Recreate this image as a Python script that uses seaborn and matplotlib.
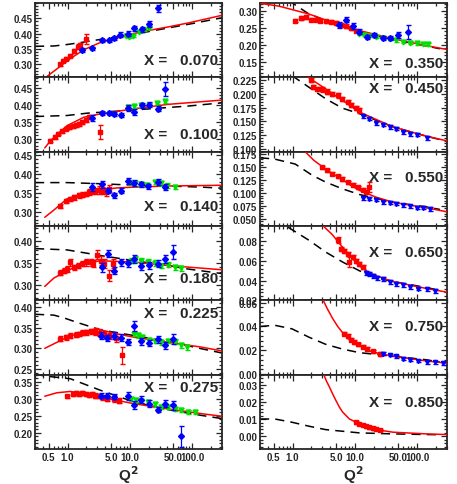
import matplotlib
matplotlib.use("Agg")
import matplotlib.pyplot as plt
from matplotlib.ticker import FixedLocator, FormatStrFormatter, AutoMinorLocator, NullFormatter
import seaborn as sns

# ---------------- x = 0.070 ----------------
red_q_070 = [0.76, 0.84, 0.95, 1.11, 1.26, 1.45, 1.6, 2.0]
red_f_070 = [0.301, 0.312, 0.318, 0.328, 0.343, 0.358, 0.362, 0.383]
red_e_070 = [0.005, 0.005, 0.005, 0.005, 0.006, 0.008, 0.008, 0.015]
blue_q_070 = [1.73, 2.48, 3.62, 4.64, 5.6, 7.0, 9.2, 11.8, 15.9, 20.5, 28.2]
blue_f_070 = [0.348, 0.352, 0.378, 0.378, 0.385, 0.397, 0.400, 0.418, 0.415, 0.433, 0.483]
blue_e_070 = [0.006, 0.005, 0.005, 0.006, 0.006, 0.007, 0.008, 0.008, 0.008, 0.010, 0.012]
green_q_070 = [8.5, 9.5, 11.0, 14.0, 17.0, 20.0]
green_f_070 = [0.392, 0.390, 0.393, 0.405, 0.412, 0.420]
green_e_070 = [0.004, 0.004, 0.004, 0.004, 0.004, 0.004]
fit_q_070 = [0.46, 0.67, 0.98, 1.83, 3.4, 6.3, 11.8, 21.7, 40.8, 86, 317]
fit_f_070 = [0.260, 0.285, 0.312, 0.348, 0.372, 0.386, 0.401, 0.412, 0.422, 0.435, 0.461]
dash_q_070 = [0.3, 0.6, 1.0, 2.0, 4.0, 10, 20, 50, 100, 300]
dash_f_070 = [0.359, 0.360, 0.365, 0.374, 0.384, 0.396, 0.407, 0.422, 0.433, 0.452]

# ---------------- x = 0.100 ----------------
red_q_100 = [0.52, 0.63, 0.71, 0.82, 0.93, 1.05, 1.2, 1.35, 1.52, 1.73, 1.95, 2.2, 3.3]
red_f_100 = [0.295, 0.305, 0.315, 0.322, 0.330, 0.335, 0.337, 0.341, 0.344, 0.349, 0.357, 0.364, 0.320]
red_e_100 = [0.005, 0.005, 0.005, 0.005, 0.005, 0.005, 0.005, 0.005, 0.005, 0.006, 0.006, 0.006, 0.020]
blue_q_100 = [2.48, 3.62, 4.64, 5.6, 7.2, 9.2, 11.8, 15.9, 20.5, 28.2, 36]
blue_f_100 = [0.362, 0.376, 0.376, 0.374, 0.371, 0.391, 0.379, 0.399, 0.401, 0.389, 0.448]
blue_e_100 = [0.008, 0.006, 0.006, 0.006, 0.006, 0.008, 0.008, 0.008, 0.008, 0.008, 0.020]
green_q_100 = [9.2, 11.8, 15.1, 20.5, 27, 36]
green_f_100 = [0.394, 0.396, 0.399, 0.401, 0.406, 0.411]
green_e_100 = [0.004, 0.004, 0.004, 0.004, 0.004, 0.004]
fit_q_100 = [0.43, 0.52, 0.7, 0.98, 1.83, 3.4, 11.8, 40.8, 317]
fit_f_100 = [0.273, 0.292, 0.315, 0.339, 0.364, 0.374, 0.389, 0.402, 0.415]
dash_q_100 = [0.3, 0.98, 2.08, 6.3, 21.7, 86, 317]
dash_f_100 = [0.366, 0.369, 0.376, 0.382, 0.389, 0.397, 0.407]

# ---------------- x = 0.140 ----------------
red_q_140 = [0.76, 0.93, 1.11, 1.26, 1.52, 1.73, 1.95, 2.2, 2.5, 2.8, 3.2, 3.6, 4.1, 4.6]
red_f_140 = [0.317, 0.330, 0.335, 0.339, 0.344, 0.346, 0.348, 0.353, 0.355, 0.357, 0.359, 0.357, 0.353, 0.362]
red_e_140 = [0.005, 0.005, 0.005, 0.006, 0.006, 0.006, 0.006, 0.008, 0.008, 0.008, 0.010, 0.010, 0.010, 0.010]
blue_q_140 = [2.48, 3.62, 4.5, 5.6, 7.2, 9.2, 11.8, 15.1, 19.4, 28.2, 36]
blue_f_140 = [0.366, 0.373, 0.357, 0.344, 0.357, 0.382, 0.378, 0.373, 0.368, 0.379, 0.366]
blue_e_140 = [0.010, 0.008, 0.007, 0.006, 0.006, 0.008, 0.008, 0.007, 0.007, 0.008, 0.008]
green_q_140 = [9.5, 12, 15, 19, 25, 31, 40, 52]
green_f_140 = [0.378, 0.376, 0.374, 0.372, 0.380, 0.376, 0.370, 0.366]
green_e_140 = [0.006, 0.006, 0.006, 0.006, 0.006, 0.006, 0.006, 0.006]
fit_q_140 = [0.43, 0.6, 0.98, 1.83, 3.4, 6.3, 11.8, 40.8, 317]
fit_f_140 = [0.286, 0.305, 0.335, 0.348, 0.359, 0.364, 0.366, 0.369, 0.371]
dash_q_140 = [0.3, 0.98, 3.4, 11.8, 40.8, 141, 317]
dash_f_140 = [0.378, 0.378, 0.375, 0.371, 0.369, 0.366, 0.363]

# ---------------- x = 0.180 ----------------
red_q_180 = [0.76, 0.86, 0.98, 1.11, 1.26, 1.47, 1.73, 2.0, 2.34, 2.6, 3.0, 3.4, 3.85, 4.6, 5.3]
red_f_180 = [0.328, 0.332, 0.336, 0.352, 0.340, 0.344, 0.348, 0.352, 0.352, 0.348, 0.369, 0.355, 0.348, 0.321, 0.348]
red_e_180 = [0.006, 0.006, 0.006, 0.008, 0.006, 0.006, 0.006, 0.008, 0.008, 0.008, 0.010, 0.010, 0.010, 0.012, 0.010]
blue_q_180 = [3.62, 4.5, 5.6, 7.2, 9.2, 11.8, 15.1, 20.5, 28.2, 36, 49]
blue_f_180 = [0.340, 0.371, 0.332, 0.352, 0.349, 0.359, 0.342, 0.345, 0.348, 0.359, 0.375]
blue_e_180 = [0.010, 0.008, 0.008, 0.008, 0.008, 0.010, 0.008, 0.008, 0.008, 0.010, 0.016]
green_q_180 = [10.4, 12, 15.1, 19.4, 25, 31.8, 40.8, 52, 67]
green_f_180 = [0.355, 0.359, 0.355, 0.352, 0.350, 0.344, 0.346, 0.340, 0.338]
green_e_180 = [0.006, 0.006, 0.006, 0.006, 0.006, 0.006, 0.006, 0.006, 0.006]
fit_q_180 = [0.43, 0.6, 0.98, 1.83, 3.4, 11.8, 40.8, 141, 317]
fit_f_180 = [0.296, 0.315, 0.332, 0.349, 0.355, 0.352, 0.344, 0.338, 0.334]
dash_q_180 = [0.3, 0.98, 3.4, 11.8, 40.8, 86, 317]
dash_f_180 = [0.383, 0.380, 0.367, 0.355, 0.344, 0.336, 0.325]

# ---------------- x = 0.225 ----------------
red_q_225 = [0.76, 0.93, 1.11, 1.35, 1.52, 1.73, 2.0, 2.34, 2.8, 3.2, 3.85, 4.6, 6.0, 7.4]
red_f_225 = [0.323, 0.327, 0.331, 0.333, 0.335, 0.338, 0.339, 0.342, 0.341, 0.338, 0.335, 0.330, 0.325, 0.283]
red_e_225 = [0.006, 0.006, 0.006, 0.006, 0.006, 0.006, 0.006, 0.006, 0.008, 0.008, 0.008, 0.008, 0.010, 0.020]
blue_q_225 = [3.4, 4.36, 5.6, 7.2, 9.2, 11.8, 15.1, 20.5, 28.2, 36, 49]
blue_f_225 = [0.331, 0.325, 0.331, 0.326, 0.315, 0.354, 0.317, 0.313, 0.322, 0.307, 0.322]
blue_e_225 = [0.008, 0.008, 0.008, 0.008, 0.008, 0.012, 0.008, 0.007, 0.008, 0.008, 0.012]
green_q_225 = [11.8, 13.3, 15.9, 20.5, 25, 31.8, 40.8, 52, 67, 81]
green_f_225 = [0.335, 0.332, 0.327, 0.320, 0.318, 0.315, 0.318, 0.316, 0.308, 0.303]
green_e_225 = [0.006, 0.006, 0.006, 0.006, 0.006, 0.006, 0.006, 0.006, 0.006, 0.006]
fit_q_225 = [0.43, 0.98, 1.83, 3.0, 6.3, 11.8, 40.8, 141, 317]
fit_f_225 = [0.300, 0.327, 0.341, 0.347, 0.335, 0.327, 0.315, 0.303, 0.293]
dash_q_225 = [0.3, 0.6, 0.88, 1.5, 3.4, 11.8, 40.8, 141, 317]
dash_f_225 = [0.383, 0.381, 0.374, 0.362, 0.345, 0.331, 0.317, 0.299, 0.288]

# ---------------- x = 0.275 ----------------
red_q_275 = [0.98, 1.2, 1.35, 1.52, 1.73, 1.95, 2.2, 2.48, 2.8, 3.2, 3.6, 4.36, 5.6, 6.6]
red_f_275 = [0.307, 0.314, 0.317, 0.314, 0.317, 0.314, 0.311, 0.314, 0.309, 0.307, 0.304, 0.299, 0.299, 0.294]
red_e_275 = [0.005, 0.005, 0.005, 0.005, 0.005, 0.005, 0.006, 0.006, 0.006, 0.006, 0.007, 0.007, 0.008, 0.008]
blue_q_275 = [3.4, 4.36, 5.6, 9.2, 11.8, 15.1, 20.5, 28.2, 36, 49, 67]
blue_f_275 = [0.309, 0.309, 0.306, 0.307, 0.282, 0.297, 0.285, 0.268, 0.285, 0.280, 0.190]
blue_e_275 = [0.008, 0.008, 0.008, 0.012, 0.012, 0.010, 0.010, 0.008, 0.010, 0.012, 0.030]
green_q_275 = [10.4, 12.5, 15.1, 19.4, 24.9, 31.8, 40.8, 52, 67, 86, 110]
green_f_275 = [0.299, 0.295, 0.292, 0.290, 0.283, 0.276, 0.276, 0.271, 0.267, 0.262, 0.260]
green_e_275 = [0.006, 0.006, 0.006, 0.006, 0.006, 0.006, 0.006, 0.006, 0.006, 0.006, 0.006]
fit_q_275 = [0.43, 0.67, 1.11, 1.83, 3.4, 11.8, 40.8, 141, 317]
fit_f_275 = [0.307, 0.317, 0.321, 0.314, 0.304, 0.285, 0.270, 0.256, 0.248]
dash_q_275 = [0.3, 0.43, 1.11, 3.4, 11.8, 40.8, 141, 317]
dash_f_275 = [0.372, 0.366, 0.358, 0.324, 0.290, 0.268, 0.251, 0.241]

# ---------------- x = 0.350 ----------------
red_q_350 = [1.11, 1.35, 1.62, 1.95, 2.34, 2.8, 3.4, 4.1, 4.94, 6.0, 7.2, 8.6, 10.4]
red_f_350 = [0.271, 0.278, 0.281, 0.274, 0.274, 0.271, 0.269, 0.268, 0.264, 0.258, 0.255, 0.249, 0.242]
red_e_350 = [0.005, 0.005, 0.005, 0.005, 0.005, 0.005, 0.005, 0.005, 0.005, 0.005, 0.005, 0.005, 0.005]
blue_q_350 = [5.6, 7.2, 9.2, 11.8, 15.9, 20.5, 28.2, 37, 49, 70]
blue_f_350 = [0.258, 0.274, 0.255, 0.239, 0.223, 0.230, 0.221, 0.220, 0.229, 0.237]
blue_e_350 = [0.010, 0.008, 0.008, 0.008, 0.006, 0.006, 0.006, 0.006, 0.008, 0.020]
green_q_350 = [11.8, 14, 17, 21.7, 28, 36, 46, 59, 76, 98, 125, 150]
green_f_350 = [0.232, 0.230, 0.226, 0.224, 0.220, 0.218, 0.214, 0.210, 0.207, 0.205, 0.203, 0.202]
green_e_350 = [0.004, 0.004, 0.004, 0.004, 0.004, 0.004, 0.004, 0.004, 0.004, 0.004, 0.004, 0.004]
fit_q_350 = [0.3, 0.6, 1.83, 4.94, 11.8, 40.8, 141, 317]
fit_f_350 = [0.321, 0.313, 0.290, 0.262, 0.242, 0.218, 0.198, 0.186]
dash_q_350 = [0.85, 1.2, 1.83, 3.4, 11.8, 40.8, 141, 231]
dash_f_350 = [0.330, 0.312, 0.290, 0.271, 0.237, 0.216, 0.197, 0.189]

# ---------------- x = 0.450 ----------------
red_q_450 = [1.95, 2.15, 2.48, 3.0, 3.6, 4.36, 5.3, 6.3, 7.7, 8.7, 10.4, 11.8]
red_f_450 = [0.225, 0.212, 0.209, 0.208, 0.204, 0.200, 0.197, 0.191, 0.185, 0.180, 0.174, 0.170]
red_e_450 = [0.004, 0.004, 0.004, 0.004, 0.004, 0.004, 0.004, 0.004, 0.004, 0.004, 0.004, 0.004]
blue_q_450 = [13.3, 17, 21.7, 28, 36, 46, 59, 76, 98, 141]
blue_f_450 = [0.159, 0.155, 0.147, 0.144, 0.140, 0.137, 0.130, 0.127, 0.126, 0.120]
blue_e_450 = [0.003, 0.003, 0.003, 0.003, 0.003, 0.003, 0.003, 0.003, 0.003, 0.004]
fit_q_450 = [1.62, 3.4, 11.8, 40.8, 141, 317]
fit_f_450 = [0.233, 0.209, 0.167, 0.140, 0.123, 0.114]
dash_q_450 = [0.98, 1.83, 3.4, 6.3, 11.8, 40.8, 141, 231]
dash_f_450 = [0.233, 0.212, 0.191, 0.174, 0.164, 0.140, 0.123, 0.117]

# ---------------- x = 0.550 ----------------
red_q_550 = [3.0, 3.6, 4.36, 5.3, 6.3, 7.7, 9.2, 11.0, 13.3, 15.0, 17.0]
red_f_550 = [0.150, 0.144, 0.137, 0.132, 0.127, 0.121, 0.116, 0.111, 0.106, 0.102, 0.111]
red_e_550 = [0.003, 0.003, 0.003, 0.003, 0.003, 0.003, 0.003, 0.003, 0.003, 0.003, 0.010]
blue_q_550 = [13.3, 17, 21.7, 28, 36, 46, 59, 76, 98, 125, 160]
blue_f_550 = [0.090, 0.089, 0.087, 0.082, 0.081, 0.079, 0.076, 0.074, 0.071, 0.071, 0.069]
blue_e_550 = [0.003, 0.003, 0.003, 0.003, 0.003, 0.003, 0.003, 0.003, 0.003, 0.003, 0.003]
fit_q_550 = [1.62, 2.2, 3.0, 4.4, 6.3, 8.5, 11.8, 21.7, 40.8, 141, 317]
fit_f_550 = [0.179, 0.163, 0.151, 0.137, 0.126, 0.115, 0.105, 0.092, 0.082, 0.071, 0.063]
dash_q_550 = [0.3, 0.5, 1.1, 2.08, 3.4, 6.3, 11.8, 40.8, 141, 231]
dash_f_550 = [0.168, 0.166, 0.156, 0.134, 0.121, 0.108, 0.097, 0.082, 0.073, 0.068]

# ---------------- x = 0.650 ----------------
red_q_650 = [5.3, 6.0, 6.7, 7.7, 8.1, 9.2, 10.4, 11.8, 13.3]
red_f_650 = [0.081, 0.072, 0.070, 0.067, 0.059, 0.064, 0.060, 0.057, 0.054]
red_e_650 = [0.003, 0.002, 0.002, 0.002, 0.005, 0.002, 0.002, 0.002, 0.002]
blue_q_650 = [15.1, 17, 19.4, 23, 28, 36, 46, 59, 76, 104, 141, 190]
blue_f_650 = [0.048, 0.047, 0.045, 0.043, 0.042, 0.039, 0.037, 0.036, 0.034, 0.032, 0.031, 0.029]
blue_e_650 = [0.002, 0.002, 0.002, 0.002, 0.002, 0.002, 0.002, 0.002, 0.002, 0.002, 0.002, 0.002]
fit_q_650 = [3.1, 4.3, 5.3, 6.3, 8.1, 11.8, 16.0, 21.7, 40.8, 141, 317]
fit_f_650 = [0.0955, 0.087, 0.080, 0.074, 0.066, 0.055, 0.049, 0.045, 0.039, 0.032, 0.028]
dash_q_650 = [0.5, 0.86, 1.83, 3.4, 6.3, 11.8, 21.7, 40.8, 141, 231]
dash_f_650 = [0.100, 0.094, 0.081, 0.069, 0.059, 0.050, 0.043, 0.039, 0.033, 0.030]

# ---------------- x = 0.750 ----------------
red_q_750 = [6.6, 7.7, 8.6, 9.8, 11, 13.3, 15.9, 19.4, 24.9]
red_f_750 = [0.034, 0.032, 0.029, 0.027, 0.025, 0.023, 0.021, 0.019, 0.017]
red_e_750 = [0.0015, 0.0015, 0.0015, 0.0015, 0.0015, 0.0015, 0.0015, 0.0015, 0.0015]
blue_q_750 = [28, 36, 46, 59, 76, 104, 141, 190, 256]
blue_f_750 = [0.017, 0.016, 0.015, 0.013, 0.012, 0.011, 0.010, 0.010, 0.009]
blue_e_750 = [0.0012, 0.0012, 0.0012, 0.0012, 0.0012, 0.0012, 0.0012, 0.0012, 0.0012]
fit_q_750 = [3.1, 3.6, 4.36, 5.3, 6.3, 8.1, 11.8, 16.0, 21.7, 40.8, 141, 317]
fit_f_750 = [0.062, 0.055, 0.047, 0.040, 0.035, 0.029, 0.024, 0.020, 0.018, 0.015, 0.011, 0.009]
dash_q_750 = [0.3, 0.52, 0.98, 1.83, 3.4, 6.3, 11.8, 40.8, 141, 231]
dash_f_750 = [0.040, 0.041, 0.038, 0.031, 0.025, 0.021, 0.018, 0.015, 0.012, 0.010]

# ---------------- x = 0.850 ----------------
red_q_850 = [10.4, 11.8, 13.3, 15.1, 17, 19.4, 21.7, 24.9]
red_f_850 = [0.0082, 0.0072, 0.0066, 0.0059, 0.0053, 0.0047, 0.0043, 0.0037]
red_e_850 = [0.0008, 0.0008, 0.0008, 0.0008, 0.0008, 0.0008, 0.0008, 0.0008]
fit_q_850 = [3.2, 3.5, 3.85, 4.36, 4.94, 5.6, 6.3, 8.1, 11.8, 16.0, 21.7, 40.8, 141, 317]
fit_f_850 = [0.0356, 0.0322, 0.0292, 0.0250, 0.0210, 0.0172, 0.0143, 0.0102, 0.0072, 0.0052, 0.0039, 0.0024, 0.0014, 0.001]
dash_q_850 = [0.3, 0.52, 0.98, 1.83, 3.4, 11.8, 40.8, 231]
dash_f_850 = [0.0101, 0.0101, 0.0082, 0.0059, 0.0039, 0.002, 0.0014, 0.0009]

x_labels = ["0.070", "0.100", "0.140", "0.180", "0.225", "0.275",
            "0.350", "0.450", "0.550", "0.650", "0.750", "0.850"]
q_ticks = [0.5, 1.0, 5.0, 10.0, 50.0, 100.0]
q_minor = [0.3, 0.4, 0.6, 0.7, 0.8, 0.9, 2, 3, 4, 6, 7, 8, 9,
           20, 30, 40, 60, 70, 80, 90, 200, 300]

# per panel: data, y range, y ticks, tick format, label height
panels = [
    ((red_q_070, red_f_070, red_e_070), (blue_q_070, blue_f_070, blue_e_070), (green_q_070, green_f_070, green_e_070),
     (fit_q_070, fit_f_070), (dash_q_070, dash_f_070), (0.258, 0.50), [0.30, 0.35, 0.40, 0.45], "%.2f", 0.23),
    ((red_q_100, red_f_100, red_e_100), (blue_q_100, blue_f_100, blue_e_100), (green_q_100, green_f_100, green_e_100),
     (fit_q_100, fit_f_100), (dash_q_100, dash_f_100), (0.262, 0.482), [0.30, 0.35, 0.40, 0.45], "%.2f", 0.24),
    ((red_q_140, red_f_140, red_e_140), (blue_q_140, blue_f_140, blue_e_140), (green_q_140, green_f_140, green_e_140),
     (fit_q_140, fit_f_140), (dash_q_140, dash_f_140), (0.263, 0.46), [0.30, 0.35, 0.40, 0.45], "%.2f", 0.27),
    ((red_q_180, red_f_180, red_e_180), (blue_q_180, blue_f_180, blue_e_180), (green_q_180, green_f_180, green_e_180),
     (fit_q_180, fit_f_180), (dash_q_180, dash_f_180), (0.264, 0.435), [0.30, 0.35, 0.40], "%.2f", 0.30),
    ((red_q_225, red_f_225, red_e_225), (blue_q_225, blue_f_225, blue_e_225), (green_q_225, green_f_225, green_e_225),
     (fit_q_225, fit_f_225), (dash_q_225, dash_f_225), (0.236, 0.417), [0.25, 0.30, 0.35, 0.40], "%.2f", 0.83),
    ((red_q_275, red_f_275, red_e_275), (blue_q_275, blue_f_275, blue_e_275), (green_q_275, green_f_275, green_e_275),
     (fit_q_275, fit_f_275), (dash_q_275, dash_f_275), (0.153, 0.37), [0.20, 0.25, 0.30, 0.35], "%.2f", 0.83),
    ((red_q_350, red_f_350, red_e_350), (blue_q_350, blue_f_350, blue_e_350), (green_q_350, green_f_350, green_e_350),
     (fit_q_350, fit_f_350), (dash_q_350, dash_f_350), (0.106, 0.322), [0.15, 0.20, 0.25, 0.30], "%.2f", 0.19),
    ((red_q_450, red_f_450, red_e_450), (blue_q_450, blue_f_450, blue_e_450), None,
     (fit_q_450, fit_f_450), (dash_q_450, dash_f_450), (0.095, 0.23),
     [0.100, 0.125, 0.150, 0.175, 0.200, 0.225], "%.3f", 0.85),
    ((red_q_550, red_f_550, red_e_550), (blue_q_550, blue_f_550, blue_e_550), None,
     (fit_q_550, fit_f_550), (dash_q_550, dash_f_550), (0.036, 0.18),
     [0.050, 0.075, 0.100, 0.125, 0.150, 0.175], "%.3f", 0.66),
    ((red_q_650, red_f_650, red_e_650), (blue_q_650, blue_f_650, blue_e_650), None,
     (fit_q_650, fit_f_650), (dash_q_650, dash_f_650), (0.020, 0.0955), [0.02, 0.04, 0.06, 0.08], "%.2f", 0.65),
    ((red_q_750, red_f_750, red_e_750), (blue_q_750, blue_f_750, blue_e_750), None,
     (fit_q_750, fit_f_750), (dash_q_750, dash_f_750), (-0.0005, 0.062), [0.00, 0.02, 0.04, 0.06], "%.2f", 0.66),
    ((red_q_850, red_f_850, red_e_850), None, None,
     (fit_q_850, fit_f_850), (dash_q_850, dash_f_850), (-0.0074, 0.036), [0.00, 0.01, 0.02, 0.03], "%.2f", 0.63),
]

sns.set_style("ticks")
plt.rcParams["font.family"] = ["Liberation Sans", "DejaVu Sans"]
plt.rcParams["font.weight"] = "bold"

W, H = 457, 485
fig = plt.figure(figsize=(W / 100, H / 100), dpi=100)
row_h = 74.33

for i, (red, blue, green, fit, dash, ylim, yt, fmt, ty) in enumerate(panels):
    col, row = divmod(i, 6)
    left = 35 if col == 0 else 260
    top = 4 + row * row_h
    ax = fig.add_axes([left / W, 1 - (top + row_h) / H, 187 / W, row_h / H])
    ax.set_xscale("log")

    sns.lineplot(x=fit[0], y=fit[1], ax=ax, color="red", lw=1.1, sort=False, estimator=None, zorder=3)
    sns.lineplot(x=dash[0], y=dash[1], ax=ax, color="black", lw=1.1, sort=False, estimator=None,
                 linestyle=(0, (6, 4)), zorder=2)

    ax.errorbar(red[0], red[1], yerr=red[2], fmt="s", color="red", ms=3, capsize=1.8, elinewidth=0.9, zorder=4)
    if blue is not None:
        bm = "D" if i < 7 else "v"
        ax.errorbar(blue[0], blue[1], yerr=blue[2], fmt=bm, color="blue", ms=3, capsize=1.8, elinewidth=0.9, zorder=5)
    if green is not None:
        ax.errorbar(green[0], green[1], yerr=green[2], fmt="v", color="#00e000", ms=3.5, capsize=1.8,
                    elinewidth=0.9, zorder=4)

    ax.set_xlim(0.3, 300)
    ax.set_ylim(*ylim)
    ax.xaxis.set_major_locator(FixedLocator(q_ticks))
    ax.xaxis.set_minor_locator(FixedLocator(q_minor))
    ax.xaxis.set_minor_formatter(NullFormatter())
    ax.yaxis.set_major_locator(FixedLocator(yt))
    ax.yaxis.set_minor_locator(AutoMinorLocator(5))
    ax.yaxis.set_major_formatter(FormatStrFormatter(fmt))
    if row == 5:
        ax.xaxis.set_major_formatter(FormatStrFormatter("%.1f"))
        ax.set_xlabel("Q$^\\mathbf{2}$", fontsize=11, fontweight="bold", labelpad=1)
    else:
        ax.xaxis.set_major_formatter(NullFormatter())
        ax.set_xlabel("")
    ax.set_ylabel("")
    ax.tick_params(which="both", direction="in", top=True, right=True, labelsize=7, pad=2, width=0.9)
    ax.tick_params(which="major", length=4.5)
    ax.tick_params(which="minor", length=2.5)
    for s in ax.spines.values():
        s.set_linewidth(1.3)
    for lab in ax.get_xticklabels() + ax.get_yticklabels():
        lab.set_fontweight("bold")

    ax.text(0.98, ty, "X =   " + x_labels[i], transform=ax.transAxes, ha="right", va="center",
            fontsize=11, fontweight="bold")

fig.savefig("out.png", dpi=100)
